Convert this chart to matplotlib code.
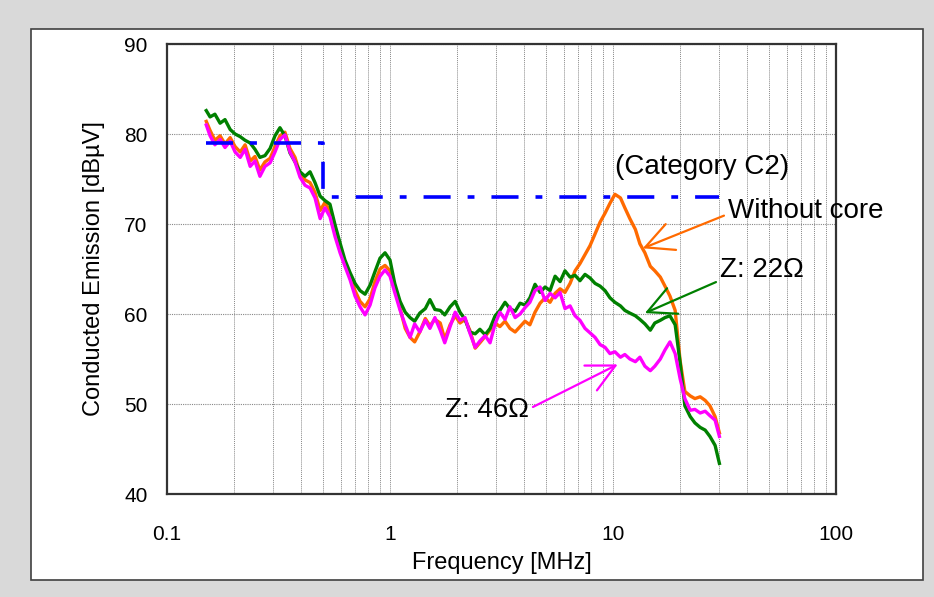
import matplotlib
matplotlib.use("Agg")
import matplotlib.pyplot as plt
from matplotlib.patches import Rectangle

plt.rcParams["font.family"] = ["Liberation Sans", "DejaVu Sans"]

# Measurement frequencies [MHz], 150 kHz .. 30 MHz
freq_mhz = [
    0.150, 0.156, 0.164, 0.173, 0.182, 0.192, 0.202, 0.213, 0.224, 0.236,
    0.248, 0.261, 0.275, 0.290, 0.305, 0.321, 0.338, 0.356, 0.375, 0.395,
    0.416, 0.438, 0.461, 0.486, 0.511, 0.538, 0.567, 0.597, 0.628, 0.662,
    0.697, 0.734, 0.773, 0.814, 0.856, 0.902, 0.950, 1.00, 1.05, 1.11,
    1.17, 1.23, 1.29, 1.36, 1.44, 1.51, 1.59, 1.68, 1.76, 1.86,
    1.96, 2.06, 2.17, 2.28, 2.41, 2.53, 2.67, 2.81, 2.96, 3.11,
    3.28, 3.45, 3.64, 3.83, 4.03, 4.24, 4.47, 4.71, 4.96, 5.22,
    5.50, 5.79, 6.09, 6.42, 6.76, 7.11, 7.49, 7.89, 8.31, 8.75,
    9.21, 9.69, 10.2, 10.8, 11.3, 11.9, 12.6, 13.2, 13.9, 14.7,
    15.4, 16.3, 17.1, 18.0, 19.0, 20.0, 21.0, 22.2, 23.3, 24.6,
    25.9, 27.2, 28.7, 30.0,
]

# Conducted emission levels [dBuV]
without_core = [
    81.4, 80.4, 79.3, 79.8, 78.9, 79.6, 78.6, 78.0, 78.8, 77.0,
    77.5, 76.0, 76.9, 77.3, 78.6, 79.8, 80.2, 78.4, 77.4, 75.6,
    74.9, 74.6, 73.5, 71.5, 72.4, 71.4, 69.2, 67.3, 65.8, 64.2,
    62.6, 61.4, 60.8, 61.7, 63.6, 65.0, 65.4, 64.8, 63.0, 60.6,
    58.4, 57.4, 56.9, 58.0, 59.5, 58.7, 59.4, 59.0, 57.2, 58.8,
    59.8, 59.0, 59.4, 58.2, 56.2, 56.8, 57.5, 58.2, 59.0, 58.6,
    59.2, 58.4, 58.0, 58.6, 59.2, 58.8, 60.2, 61.2, 61.8, 61.3,
    62.3, 62.8, 62.4, 63.4, 64.8, 65.6, 66.6, 67.6, 68.9, 70.2,
    71.2, 72.3, 73.3, 72.9, 71.8, 70.6, 69.4, 67.8, 66.8, 65.3,
    64.8, 64.1, 63.1, 62.0, 60.4, 54.8, 51.4, 50.9, 50.6, 50.8,
    50.4, 49.8, 48.6, 46.8,
]
z_22 = [
    82.6, 81.9, 82.2, 81.2, 81.6, 80.5, 80.0, 79.7, 79.3, 79.0,
    78.3, 77.4, 77.6, 78.4, 79.8, 80.7, 79.8, 77.9, 76.9, 75.8,
    75.3, 75.8, 74.6, 73.1, 72.6, 72.2, 69.9, 67.9, 66.0, 64.6,
    63.4, 62.6, 62.2, 63.2, 64.7, 66.2, 66.8, 66.0, 63.4, 61.4,
    60.2, 59.6, 59.2, 60.1, 60.6, 61.6, 60.5, 60.4, 59.9, 60.8,
    61.4, 60.2, 59.4, 58.0, 57.8, 58.3, 57.7, 58.4, 59.8, 60.4,
    61.3, 60.6, 60.3, 61.2, 61.0, 61.8, 63.3, 62.4, 63.0, 62.6,
    64.2, 63.6, 64.8, 64.1, 64.3, 63.7, 64.4, 64.0, 63.4, 63.1,
    62.6, 61.8, 61.3, 60.9, 60.4, 60.1, 59.8, 59.4, 58.9, 58.2,
    59.0, 59.3, 59.6, 59.8, 58.8, 54.6, 49.8, 48.6, 47.9, 47.4,
    47.1, 46.4, 45.4, 43.4,
]
z_46 = [
    81.0, 79.8, 78.8, 79.4, 78.5, 79.2, 78.0, 77.4, 78.3, 76.4,
    77.0, 75.3, 76.4, 76.8, 78.0, 79.4, 79.9, 78.0, 76.9, 75.2,
    74.3, 74.0, 72.9, 70.6, 71.8, 70.8, 68.6, 66.8, 65.3, 63.8,
    62.0, 60.8, 59.9, 61.0, 62.9, 64.2, 64.9, 64.2, 62.4, 60.4,
    58.8, 57.4, 58.9, 58.0, 59.3, 58.4, 59.6, 58.2, 56.8, 58.6,
    60.2, 59.3, 59.6, 57.9, 56.3, 57.0, 57.6, 56.8, 58.9, 60.2,
    59.4, 60.8, 59.6, 60.0, 60.7, 61.3, 62.6, 63.0, 61.5, 62.3,
    61.8, 62.4, 60.6, 60.9, 59.8, 59.3, 58.4, 57.9, 57.4, 56.6,
    56.3, 55.6, 55.8, 55.2, 55.5, 55.0, 54.7, 55.2, 54.2, 53.7,
    54.2, 55.0, 56.0, 56.9, 55.6, 52.8, 50.6, 49.3, 49.4, 49.0,
    49.2, 48.7, 48.2, 46.4,
]

# Category C2 limit (quasi-peak)
limit_freq = [0.15, 0.5, 0.5, 30.0]
limit_level = [79.0, 79.0, 73.0, 73.0]

x_ticks = [0.1, 1, 10, 100]
x_tick_labels = ["0.1", "1", "10", "100"]
y_ticks = [40, 50, 60, 70, 80, 90]

fig = plt.figure(figsize=(9.34, 5.97), dpi=100)
fig.patch.set_facecolor("#d9d9d9")

# white panel behind the chart
W, H = 934, 597
panel = Rectangle((31 / W, 1 - 580 / H), (923 - 31) / W, (580 - 29) / H,
                  transform=fig.transFigure, facecolor="white",
                  edgecolor="#404040", linewidth=1.2, zorder=-10)
fig.patches.append(panel)

ax = fig.add_axes([167 / W, 1 - 494 / H, (836 - 167) / W, (494 - 44) / H])
ax.set_xscale("log")
ax.set_xlim(0.1, 100)
ax.set_ylim(40, 90)

ax.plot(freq_mhz, without_core, color="#ff6a00", lw=2.4, zorder=3)
ax.plot(freq_mhz, z_22, color="#008000", lw=2.4, zorder=3)
ax.plot(freq_mhz, z_46, color="#ff00ff", lw=2.4, zorder=4)
lim, = ax.plot(limit_freq, limit_level, color="#0000ff", lw=2.6, zorder=5)
lim.set_dashes([7.5, 4.7, 1.9, 4.7])

# grid
ax.set_xticks(x_ticks)
ax.set_xticklabels(x_tick_labels)
ax.set_yticks(y_ticks)
ax.grid(True, which="both", axis="x", color="#888888", lw=0.7,
        linestyle=(0, (1, 1)))
ax.grid(True, which="major", axis="y", color="#888888", lw=0.8,
        linestyle=(0, (1, 1)))
ax.tick_params(which="both", length=0)
ax.tick_params(axis="y", pad=14, labelsize=15)
ax.tick_params(axis="x", pad=22, labelsize=15)
for s in ax.spines.values():
    s.set_linewidth(1.6)
    s.set_color("#333333")

ax.set_xlabel("Frequency [MHz]", fontsize=17, labelpad=6)
ax.set_ylabel("Conducted Emission [dBµV]", fontsize=17, labelpad=14)

# annotations
ax.text(25.1, 76.3, "(Category C2)", fontsize=20, ha="center", va="center",
        zorder=6)


def arrow(color, relpos):
    return dict(arrowstyle="->,head_length=1.0,head_width=0.5", lw=1.6,
                color=color, relpos=relpos, shrinkA=1, shrinkB=0)


ax.annotate("Without core", xy=(13.6, 67.3), xytext=(32.8, 71.4),
            fontsize=20, ha="left", va="center",
            arrowprops=arrow("#ff6a00", (0.0, 0.4)), zorder=6)
ax.annotate("Z: 22Ω", xy=(13.9, 60.1), xytext=(30.2, 64.9),
            fontsize=20, ha="left", va="center",
            arrowprops=arrow("#008000", (0.0, 0.1)), zorder=6)
ax.annotate("Z: 46Ω", xy=(10.5, 54.4), xytext=(2.72, 49.3),
            fontsize=20, ha="center", va="center",
            arrowprops=arrow("#ff00ff", (1.0, 0.55)), zorder=6)

fig.savefig("out.png", dpi=100, facecolor=fig.get_facecolor())
